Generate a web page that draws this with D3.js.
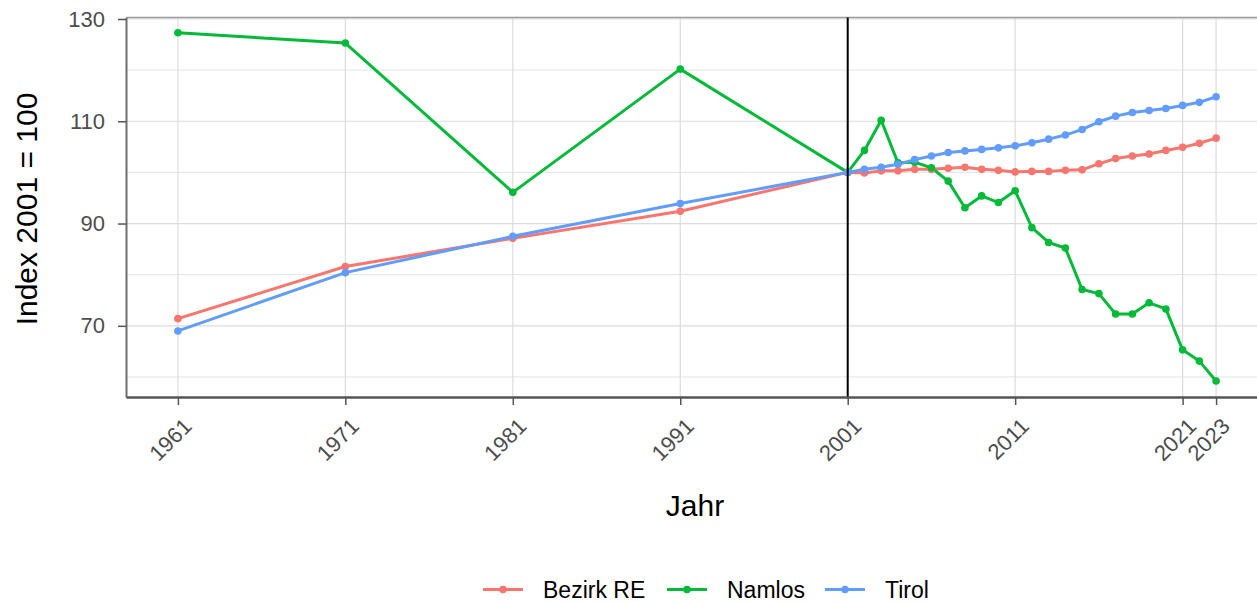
<!DOCTYPE html>
<html>
<head>
<meta charset="utf-8">
<script src="https://cdn.jsdelivr.net/npm/d3@7"></script>
<style>
  body { margin: 0; background: #fff; }
  svg { font-family: "Liberation Sans", Arial, sans-serif; }
</style>
</head>
<body>
<script>
const w = 1257
const h = 602

// data (index 2001 = 100)
const years = [1961, 1971, 1981, 1991, 2001, 2002, 2003, 2004, 2005, 2006, 2007, 2008, 2009, 2010,
  2011, 2012, 2013, 2014, 2015, 2016, 2017, 2018, 2019, 2020, 2021, 2022, 2023]
const bezirkRE = [71.4, 81.6, 87.1, 92.4, 100, 99.9, 100.3, 100.3, 100.6, 100.6, 100.8, 101.0, 100.6, 100.4,
  100.1, 100.2, 100.2, 100.4, 100.5, 101.7, 102.7, 103.2, 103.6, 104.3, 104.9, 105.7, 106.7]
const namlos = [127.3, 125.3, 96.1, 120.2, 100, 104.3, 110.2, 101.9, 102.0, 100.9, 98.3, 93.1, 95.4, 94.1,
  96.4, 89.2, 86.3, 85.2, 77.1, 76.3, 72.3, 72.3, 74.5, 73.3, 65.3, 63.1, 59.2]
const tirol = [69.0, 80.4, 87.5, 93.9, 100, 100.6, 101.0, 101.6, 102.5, 103.2, 103.9, 104.2, 104.5, 104.8,
  105.2, 105.8, 106.5, 107.3, 108.4, 109.9, 111.0, 111.7, 112.1, 112.5, 113.1, 113.7, 114.8]

const seriesNames = ["Bezirk RE", "Namlos", "Tirol"]
const seriesValues = [bezirkRE, namlos, tirol]
const colors = ["#F8766D", "#00BA38", "#619CFF"]

const xTicks = [1961, 1971, 1981, 1991, 2001, 2011, 2021, 2023]
const yTicks = [70, 90, 110, 130]
const yMinor = [60, 80, 100, 120]
const refYear = 2001

const pLeft = 126, pRight = 1268, pTop = 17.5, pBottom = 397

let x = d3.scaleLinear().domain([1957.9, 2026.1]).range([pLeft, pRight])
let y = d3.scaleLinear().domain([56.08, 130.29]).range([pBottom, pTop])

let svg = d3.select("body").append("svg").attr("width", w).attr("height", h)

// grid
svg.selectAll("line.minor")
  .data(yMinor).enter().append("line")
  .attr("x1", pLeft).attr("x2", pRight)
  .attr("y1", d => y(d)).attr("y2", d => y(d))
  .attr("stroke", "#e3e3e3").attr("stroke-width", 1)
svg.selectAll("line.hmajor")
  .data(yTicks).enter().append("line")
  .attr("x1", pLeft).attr("x2", pRight)
  .attr("y1", d => y(d)).attr("y2", d => y(d))
  .attr("stroke", "#dcdcdc").attr("stroke-width", 1.2)
svg.selectAll("line.vmajor")
  .data(xTicks).enter().append("line")
  .attr("x1", d => x(d)).attr("x2", d => x(d))
  .attr("y1", pTop).attr("y2", pBottom)
  .attr("stroke", "#dcdcdc").attr("stroke-width", 1.2)

// panel top border
svg.append("line").attr("x1", pLeft).attr("x2", pRight).attr("y1", pTop).attr("y2", pTop)
  .attr("stroke", "#9a9a9a").attr("stroke-width", 1.5)

// lines
let line = d3.line().x((d, i) => x(years[i])).y(d => y(d))
seriesValues.forEach((vals, k) => {
  svg.append("path").datum(vals)
    .attr("d", line)
    .attr("fill", "none")
    .attr("stroke", colors[k])
    .attr("stroke-width", 3)
    .attr("stroke-linejoin", "round")
})
seriesValues.forEach((vals, k) => {
  svg.append("g").selectAll("circle")
    .data(vals).enter().append("circle")
    .attr("cx", (d, i) => x(years[i]))
    .attr("cy", d => y(d))
    .attr("r", 3.8)
    .attr("fill", colors[k])
})

// vertical reference line
svg.append("line")
  .attr("x1", x(refYear)).attr("x2", x(refYear))
  .attr("y1", pTop).attr("y2", pBottom)
  .attr("stroke", "black").attr("stroke-width", 2)

// axes
let yAxis = svg.append("g").attr("transform", "translate(" + pLeft + ",0)")
  .call(d3.axisLeft(y).tickValues(yTicks).tickSize(8).tickSizeOuter(0).tickPadding(13))
yAxis.select(".domain").attr("stroke", "#6e6e6e").attr("stroke-width", 2)
yAxis.selectAll(".tick line").attr("stroke", "#555").attr("stroke-width", 1.5)
yAxis.selectAll(".tick text").attr("font-size", 22).attr("fill", "#4d4d4d")
  .attr("font-family", "Liberation Sans, Arial, sans-serif")

let xAxis = svg.append("g").attr("transform", "translate(0," + pBottom + ")")
  .call(d3.axisBottom(x).tickValues(xTicks).tickFormat(d3.format("d")).tickSize(8).tickSizeOuter(0))
xAxis.select(".domain").attr("stroke", "#555").attr("stroke-width", 2.5)
xAxis.selectAll(".tick line").attr("stroke", "#555").attr("stroke-width", 1.5)
xAxis.selectAll(".tick text")
  .attr("font-size", 22).attr("fill", "#4d4d4d")
  .attr("font-family", "Liberation Sans, Arial, sans-serif")
  .attr("text-anchor", "end")
  .attr("transform", "translate(3,19) rotate(-45)")
  .attr("dy", "0.75em")
  .attr("y", 0)

// axis titles
svg.append("text")
  .attr("transform", "translate(37,209) rotate(-90)")
  .attr("text-anchor", "middle")
  .attr("font-size", 30)
  .attr("fill", "black")
  .text("Index 2001 = 100")

svg.append("text")
  .attr("x", 695).attr("y", 516)
  .attr("text-anchor", "middle")
  .attr("font-size", 30)
  .attr("fill", "black")
  .text("Jahr")

// legend
const legendKeyX = [483, 667, 825]
let legend = svg.append("g")
seriesNames.forEach((name, k) => {
  let g = legend.append("g").attr("transform", "translate(" + legendKeyX[k] + ",589.5)")
  g.append("line").attr("x1", 0).attr("x2", 40).attr("y1", 0).attr("y2", 0)
    .attr("stroke", colors[k]).attr("stroke-width", 3)
  g.append("circle").attr("cx", 20).attr("cy", 0).attr("r", 3.8).attr("fill", colors[k])
  g.append("text").attr("x", 60).attr("y", 8.2)
    .attr("font-size", 23).attr("fill", "black")
    .text(name)
})
</script>
</body>
</html>
